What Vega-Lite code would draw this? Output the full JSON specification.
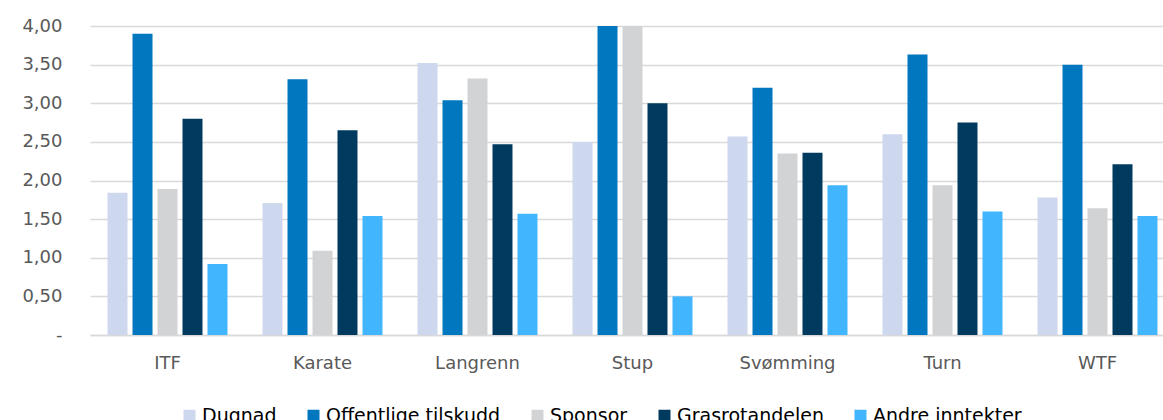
{
  "$schema": "https://vega.github.io/schema/vega-lite/v6.json",
  "width": 1085,
  "height": 309,
  "autosize": {"type": "none"},
  "padding": {"left": 90, "top": 26, "right": 0, "bottom": 85},
  "background": "white",
  "data": {
    "values": [
      {"k": "ITF", "s": "Dugnad", "v": 1.84},
      {"k": "ITF", "s": "Offentlige tilskudd", "v": 3.90},
      {"k": "ITF", "s": "Sponsor", "v": 1.89},
      {"k": "ITF", "s": "Grasrotandelen", "v": 2.80},
      {"k": "ITF", "s": "Andre inntekter", "v": 0.92},
      {"k": "Karate", "s": "Dugnad", "v": 1.71},
      {"k": "Karate", "s": "Offentlige tilskudd", "v": 3.31},
      {"k": "Karate", "s": "Sponsor", "v": 1.09},
      {"k": "Karate", "s": "Grasrotandelen", "v": 2.65},
      {"k": "Karate", "s": "Andre inntekter", "v": 1.54},
      {"k": "Langrenn", "s": "Dugnad", "v": 3.52},
      {"k": "Langrenn", "s": "Offentlige tilskudd", "v": 3.04},
      {"k": "Langrenn", "s": "Sponsor", "v": 3.32},
      {"k": "Langrenn", "s": "Grasrotandelen", "v": 2.47},
      {"k": "Langrenn", "s": "Andre inntekter", "v": 1.57},
      {"k": "Stup", "s": "Dugnad", "v": 2.50},
      {"k": "Stup", "s": "Offentlige tilskudd", "v": 4.00},
      {"k": "Stup", "s": "Sponsor", "v": 4.00},
      {"k": "Stup", "s": "Grasrotandelen", "v": 3.00},
      {"k": "Stup", "s": "Andre inntekter", "v": 0.50},
      {"k": "Svømming", "s": "Dugnad", "v": 2.57},
      {"k": "Svømming", "s": "Offentlige tilskudd", "v": 3.20},
      {"k": "Svømming", "s": "Sponsor", "v": 2.35},
      {"k": "Svømming", "s": "Grasrotandelen", "v": 2.36},
      {"k": "Svømming", "s": "Andre inntekter", "v": 1.94},
      {"k": "Turn", "s": "Dugnad", "v": 2.60},
      {"k": "Turn", "s": "Offentlige tilskudd", "v": 3.63},
      {"k": "Turn", "s": "Sponsor", "v": 1.94},
      {"k": "Turn", "s": "Grasrotandelen", "v": 2.75},
      {"k": "Turn", "s": "Andre inntekter", "v": 1.60},
      {"k": "WTF", "s": "Dugnad", "v": 1.78},
      {"k": "WTF", "s": "Offentlige tilskudd", "v": 3.50},
      {"k": "WTF", "s": "Sponsor", "v": 1.64},
      {"k": "WTF", "s": "Grasrotandelen", "v": 2.21},
      {"k": "WTF", "s": "Andre inntekter", "v": 1.54}
    ]
  },
  "mark": {"type": "bar"},
  "encoding": {
    "x": {
      "field": "k", "type": "nominal", "sort": null,
      "scale": {"paddingInner": 0.226, "paddingOuter": 0.113},
      "axis": {"title": null, "labelAngle": 0, "ticks": false, "labelPadding": 19, "labelFontSize": 18, "labelFont": "DejaVu Sans", "labelColor": "#595959", "domainColor": "#D9D9D9", "domainWidth": 1.5}
    },
    "xOffset": {
      "field": "s", "type": "nominal", "sort": ["Dugnad", "Offentlige tilskudd", "Sponsor", "Grasrotandelen", "Andre inntekter"],
      "scale": {"paddingInner": 0.2, "paddingOuter": 0}
    },
    "y": {
      "field": "v", "type": "quantitative",
      "scale": {"domain": [0, 4], "nice": false},
      "axis": {"title": null, "values": [0, 0.5, 1, 1.5, 2, 2.5, 3, 3.5, 4], "labelExpr": "datum.value == 0 ? '-' : replace(format(datum.value, '.2f'), '.', ',')", "ticks": false, "domain": false, "labelPadding": 28, "labelFontSize": 18, "labelFont": "DejaVu Sans", "labelColor": "#595959", "gridColor": "#D9D9D9", "gridWidth": 1.5}
    },
    "color": {
      "field": "s", "type": "nominal",
      "scale": {"domain": ["Dugnad", "Offentlige tilskudd", "Sponsor", "Grasrotandelen", "Andre inntekter"], "range": ["#CDD7EE", "#0077BE", "#D2D3D5", "#003A5F", "#41B6FF"]},
      "legend": {"title": null, "orient": "none", "direction": "horizontal", "legendX": 90, "legendY": 380, "symbolType": "square", "symbolSize": 144, "symbolStrokeWidth": 0, "labelFontSize": 19, "labelFont": "DejaVu Sans", "labelColor": "#000000", "labelOffset": 3, "labelLimit": 0, "columnPadding": 27, "padding": 0}
    }
  },
  "config": {"view": {"stroke": null}}
}
